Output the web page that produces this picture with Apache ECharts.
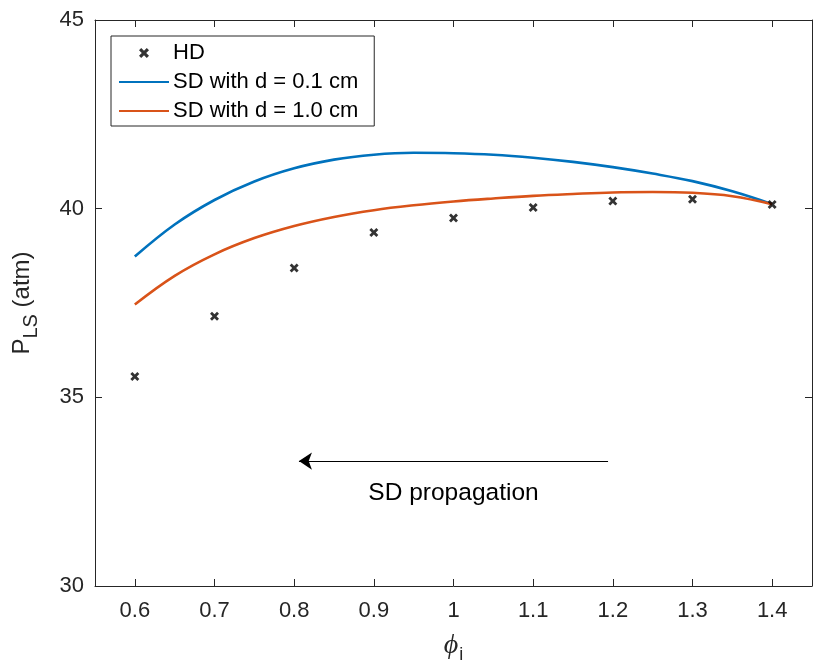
<!DOCTYPE html>
<html><head><meta charset="utf-8">
<script src="https://cdn.jsdelivr.net/npm/echarts@6/dist/echarts.min.js"></script>
<style>html,body{margin:0;padding:0;background:#fff}#c{width:813px;height:666px}</style>
</head><body><div id="c"></div>
<script>
const hdX = [0.6, 0.7, 0.8, 0.9, 1.0, 1.1, 1.2, 1.3, 1.4];
const hdY = [35.55, 37.15, 38.43, 39.37, 39.75, 40.03, 40.20, 40.25, 40.11];
const curveX = [0.6, 0.65, 0.7, 0.75, 0.8, 0.85, 0.9, 0.95, 1.0, 1.05, 1.1, 1.15, 1.2, 1.25, 1.3, 1.35, 1.4];
const sd01Y = [38.73, 39.58, 40.23, 40.72, 41.07, 41.3, 41.43, 41.48, 41.47, 41.43, 41.35, 41.24, 41.1, 40.93, 40.73, 40.46, 40.12];
const sd10Y = [37.46, 38.22, 38.79, 39.22, 39.54, 39.78, 39.96, 40.09, 40.19, 40.27, 40.34, 40.39, 40.43, 40.44, 40.42, 40.33, 40.12];
const xTicks = [0.6, 0.7, 0.8, 0.9, 1, 1.1, 1.2, 1.3, 1.4];
const yTicks = [30, 35, 40, 45];
const arrowFrom = [1.194, 33.31], arrowTo = [0.806, 33.31];
const noteAt = [1.0, 32.45];

const AX = '#262626';
const FONT = 'Liberation Sans, Arial, sans-serif';
const xMark = 'path://M0,2.2 L2.2,0 L5,2.8 L7.8,0 L10,2.2 L7.2,5 L10,7.8 L7.8,10 L5,7.2 L2.2,10 L0,7.8 L2.8,5 Z';
const zip = (a, b) => a.map((v, i) => [v, b[i]]);

const chart = echarts.init(document.getElementById('c'), null, {renderer: 'canvas'});
const xBase = {
  type: 'value', min: 0.55, max: 1.45, splitNumber: 9,
  axisLine: {show: true, lineStyle: {color: AX, width: 1}},
  axisTick: {show: true, inside: true, length: 7, lineStyle: {color: AX}},
  splitLine: {show: false}
};
const yBase = {
  type: 'value', min: 30, max: 45, interval: 5,
  axisLine: {show: true, lineStyle: {color: AX, width: 1}},
  axisTick: {show: true, inside: true, length: 7, lineStyle: {color: AX}},
  splitLine: {show: false}
};
chart.setOption({
  animation: false,
  backgroundColor: '#fff',
  grid: {left: 95, right: 1, top: 20, bottom: 80, containLabel: false, outerBoundsMode: 'none'},
  xAxis: [
    Object.assign({}, xBase, {
      position: 'bottom',
      axisLabel: {show: true, color: AX, fontSize: 22, fontFamily: FONT, margin: 14, showMinLabel: false, showMaxLabel: false,
        formatter: v => { const r = Math.round(v * 10) / 10; return xTicks.some(t => Math.abs(t - v) < 1e-6) ? String(r) : ''; }},
      name: '{p|ϕ}{s|i}', nameLocation: 'middle', nameGap: 42,
      nameTextStyle: {rich: {
        p: {fontFamily: 'Liberation Serif, serif', fontStyle: 'italic', fontSize: 28, color: AX},
        s: {fontFamily: FONT, fontSize: 18, color: AX, padding: [18, 0, 0, 1]}
      }}
    }),
    Object.assign({}, xBase, {position: 'top', axisLabel: {show: false}})
  ],
  yAxis: [
    Object.assign({}, yBase, {
      position: 'left',
      axisLabel: {show: true, color: AX, fontSize: 22, fontFamily: FONT, margin: 11,
        formatter: v => yTicks.includes(v) ? String(v) : ''},
      name: '{p|P}{s|LS}{p| (atm)}', nameLocation: 'middle', nameGap: 54,
      nameTextStyle: {rich: {
        p: {fontFamily: FONT, fontSize: 24, color: AX},
        s: {fontFamily: FONT, fontSize: 20, color: AX, padding: [18, 0, 0, 0]}
      }}
    }),
    Object.assign({}, yBase, {position: 'right', axisLabel: {show: false}})
  ],
  legend: {
    orient: 'vertical', left: 111, top: 36,
    backgroundColor: '#fff', borderColor: AX, borderWidth: 1, borderRadius: 0,
    padding: [6, 16, 4, 7], itemGap: 7, itemWidth: 50, itemHeight: 10,
    textStyle: {fontSize: 22, fontFamily: FONT, color: '#000', padding: [0, 0, 0, -1]},
    data: [
      {name: 'HD', icon: xMark, itemStyle: {color: '#000'}},
      {name: 'SD with d = 0.1 cm', itemStyle: {opacity: 0}},
      {name: 'SD with d = 1.0 cm', itemStyle: {opacity: 0}}
    ]
  },
  series: [
    {
      name: 'SD with d = 0.1 cm', type: 'line', smooth: 0.4, symbol: 'none',
      data: zip(curveX, sd01Y), lineStyle: {color: '#0072BD', width: 2.6}, itemStyle: {color: '#0072BD'}, z: 2
    },
    {
      name: 'SD with d = 1.0 cm', type: 'line', smooth: 0.4, symbol: 'none',
      data: zip(curveX, sd10Y), lineStyle: {color: '#D95319', width: 2.6}, itemStyle: {color: '#D95319'}, z: 3,
      markLine: {
        silent: true, symbol: ['none', 'arrow'], symbolSize: 13,
        lineStyle: {color: '#000', width: 1, type: 'solid'}, label: {show: false},
        data: [[{coord: arrowFrom}, {coord: arrowTo}]]
      },
      markPoint: {
        silent: true, symbol: 'circle', symbolSize: 0,
        label: {show: true, formatter: 'SD propagation', color: '#000', fontSize: 24.5, fontFamily: FONT, position: 'inside'},
        data: [{coord: noteAt}]
      }
    },
    {
      name: 'HD', type: 'scatter', symbol: xMark, symbolSize: 9,
      data: zip(hdX, hdY), itemStyle: {color: '#000'}, z: 5
    }
  ]
});
</script></body></html>
